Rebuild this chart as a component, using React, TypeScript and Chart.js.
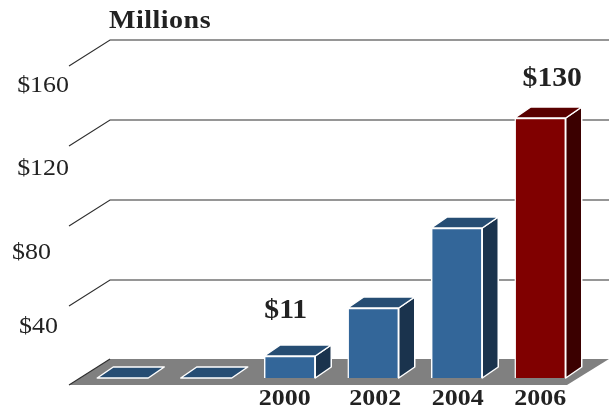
import { useEffect, useRef } from "react";
import { Chart, registerables } from "chart.js";

Chart.register(...registerables);

// Values in millions of dollars; the first two years round to nothing.
const years = ["", "", "2000", "2002", "2004", "2006"];
const revenue = [0, 0, 11, 35, 75, 130];
const valueCaptions = ["", "", "$11", "", "", "$130"];
const gridValues = [40, 80, 120, 160];
const gridCaptions = ["$40", "$80", "$120", "$160"];

const blue = { front: "#336699", top: "#264d73", side: "#1a334d" };
const red = { front: "#800000", top: "#590000", side: "#3b0000" };
const palette = [blue, blue, blue, blue, blue, red];

const SERIF = '"Liberation Serif", serif';
const INK = "#222222";
const depth = { x: 16, y: 11 };
// The plot floor sits in front of and behind the plane of the bars.
const floor = { frontX: 69, backX: 110, rightFront: 567, frontDrop: 7, backRise: 19 };
// Hand placement of the captions, which do not sit on a regular grid.
const captionSpots = [
  { right: 58, dy: 22 },
  { right: 51, dy: 28 },
  { right: 69, dy: 24 },
  { right: 69, dy: 21 },
];
const yearNudge = [0, 0, -5, 2, 1, 0];
const valueNudge = [
  { x: 0, y: 0 },
  { x: 0, y: 0 },
  { x: -4, y: -45 },
  { x: 0, y: 0 },
  { x: 0, y: 0 },
  { x: 12, y: -39 },
];

// Draws text widened a little, for the broad proportions of the book face.
function wideText(ctx: any, text: string, x: number, y: number, stretch: number) {
  ctx.save();
  ctx.translate(x, y);
  ctx.scale(stretch, 1);
  ctx.fillText(text, 0, 0);
  ctx.restore();
}

const pseudo3d = {
  id: "pseudo3d",
  beforeDatasetsDraw(chart: any) {
    const { ctx, width } = chart;
    const y = chart.scales.y;
    const zero = y.getPixelForValue(0);
    const frontY = zero + floor.frontDrop;
    const backY = zero - floor.backRise;
    ctx.save();

    // Floor
    ctx.fillStyle = "#808080";
    ctx.beginPath();
    ctx.moveTo(floor.frontX, frontY);
    ctx.lineTo(floor.backX, backY);
    ctx.lineTo(width, backY);
    ctx.lineTo(floor.rightFront, frontY);
    ctx.closePath();
    ctx.fill();

    // Grid lines: a slanted run up the side wall, then across the back wall
    ctx.strokeStyle = "#2e2e2e";
    ctx.lineWidth = 1.1;
    [0, ...gridValues].forEach((v) => {
      const py = y.getPixelForValue(v);
      const wallY = v === 0 ? py - floor.backRise : py - 18;
      ctx.beginPath();
      ctx.moveTo(floor.frontX, py + (v === 0 ? floor.frontDrop : 8));
      ctx.lineTo(floor.backX, wallY);
      if (v !== 0) ctx.lineTo(width, wallY);
      ctx.stroke();
    });

    // Top and side faces of each bar, extruded from the bar element itself
    const bars = chart.getDatasetMeta(0).data;
    bars.forEach((bar: any, i: number) => {
      const left = bar.x - bar.width / 2;
      const right = bar.x + bar.width / 2;
      const top = bar.y;
      const base = bar.base;
      const colors = palette[i];
      ctx.strokeStyle = "#ffffff";
      ctx.lineWidth = 1.5;
      ctx.lineJoin = "round";

      if (top < base) {
        ctx.fillStyle = colors.side;
        ctx.beginPath();
        ctx.moveTo(right, top);
        ctx.lineTo(right + depth.x, top - depth.y);
        ctx.lineTo(right + depth.x, base - depth.y);
        ctx.lineTo(right, base);
        ctx.closePath();
        ctx.fill();
        ctx.stroke();
      }

      ctx.fillStyle = colors.top;
      ctx.beginPath();
      ctx.moveTo(left, top);
      ctx.lineTo(left + depth.x, top - depth.y);
      ctx.lineTo(right + depth.x, top - depth.y);
      ctx.lineTo(right, top);
      ctx.closePath();
      ctx.fill();
      ctx.stroke();
    });
    ctx.restore();
  },
  afterDatasetsDraw(chart: any) {
    const { ctx } = chart;
    const y = chart.scales.y;
    const bars = chart.getDatasetMeta(0).data;
    ctx.save();
    ctx.textBaseline = "middle";
    ctx.fillStyle = INK;

    // Dollar captions beside the side wall
    ctx.font = `24px ${SERIF}`;
    ctx.textAlign = "right";
    gridValues.forEach((v, i) => {
      const spot = captionSpots[i];
      wideText(ctx, gridCaptions[i], spot.right, y.getPixelForValue(v) + floor.frontDrop + spot.dy, 1.08);
    });

    // Years under the bars
    ctx.font = `bold 24px ${SERIF}`;
    ctx.textAlign = "center";
    bars.forEach((bar: any, i: number) => {
      if (years[i]) wideText(ctx, years[i], bar.x + yearNudge[i], 399, 1.08);
    });

    // Value captions over the highlighted bars
    ctx.font = `bold 27px ${SERIF}`;
    bars.forEach((bar: any, i: number) => {
      if (valueCaptions[i]) {
        wideText(ctx, valueCaptions[i], bar.x + valueNudge[i].x, bar.y + valueNudge[i].y, 1.1);
      }
    });

    // Unit heading
    ctx.font = `bold 25px ${SERIF}`;
    ctx.letterSpacing = "0.45px";
    ctx.textAlign = "left";
    wideText(ctx, "Millions", 109, 22, 1.12);
    ctx.restore();
  },
};

export default function App() {
  const ref = useRef<HTMLCanvasElement>(null);

  useEffect(() => {
    const chart = new Chart(ref.current!, {
      type: "bar",
      data: {
        labels: years,
        datasets: [
          {
            data: revenue,
            backgroundColor: palette.map((c) => c.front),
            borderColor: "#ffffff",
            borderWidth: 1.5,
            barThickness: 51,
          },
        ],
      },
      options: {
        responsive: false,
        animation: false,
        layout: { padding: { left: 81, right: 27, top: 58, bottom: 30 } },
        plugins: { legend: { display: false }, tooltip: { enabled: false } },
        scales: {
          y: { display: false, min: 0, max: 160 },
          x: { display: false },
        },
      },
      plugins: [pseudo3d],
    });
    return () => chart.destroy();
  }, []);

  return (
    <canvas
      ref={ref}
      width={609}
      height={408}
      style={{ position: "fixed", left: 0, top: 0, display: "block" }}
    />
  );
}
